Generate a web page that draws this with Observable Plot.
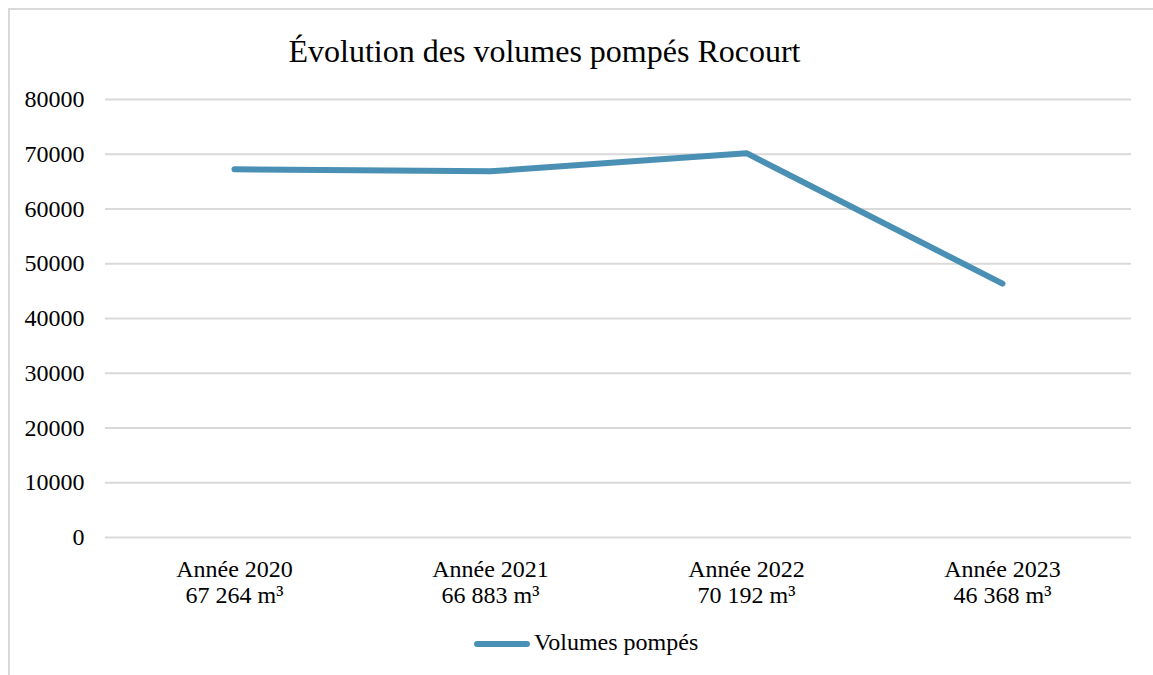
<!DOCTYPE html>
<html>
<head>
<meta charset="utf-8">
<script src="https://cdn.jsdelivr.net/npm/d3@7"></script>
<script src="https://cdn.jsdelivr.net/npm/@observablehq/plot@0.6"></script>
<style>
  html, body { margin: 0; padding: 0; background: #fff; }
  body { width: 1153px; height: 675px; overflow: hidden; position: relative; font-family: "Liberation Serif", "Times New Roman", serif; color: #000; }
  #frame { position: absolute; left: 8px; top: 8px; width: 1160px; height: 700px; border-top: 2px solid #d9d9d9; border-left: 2px solid #d9d9d9; box-sizing: border-box; }
  #title { position: absolute; left: 0; top: 35px; width: 1089px; text-align: center; font-size: 32px; line-height: 32px; white-space: nowrap; }
  #chart { position: absolute; left: 0; top: 69px; }
  #legend { position: absolute; left: 470px; top: 630px; height: 24px; display: flex; align-items: flex-start; font-size: 24px; line-height: 24px; white-space: nowrap; }
  #legend svg { display: block; }
</style>
</head>
<body>
<div id="frame"></div>
<div id="title">Évolution des volumes pompés Rocourt</div>
<div id="chart"></div>
<div id="legend"></div>
<script>
const years = ["Année 2020", "Année 2021", "Année 2022", "Année 2023"];
const volumes = [67264, 66883, 70192, 46368];
const volumeLabels = ["67 264 m³", "66 883 m³", "70 192 m³", "46 368 m³"];
const yTicks = [0, 10000, 20000, 30000, 40000, 50000, 60000, 70000, 80000];
const seriesName = "Volumes pompés";
const lineColor = "#4a90b4";
const serif = "Liberation Serif";

const data = years.map((y, i) => ({year: y, value: volumes[i], label: volumeLabels[i]}));
const labelOf = Object.fromEntries(years.map((y, i) => [y, y + "\n" + volumeLabels[i]]));

const chart = Plot.plot({
  width: 1153,
  height: 541,
  marginTop: 30,
  marginBottom: 73,
  marginLeft: 105,
  marginRight: 22,
  fontFamily: serif,
  style: {fontSize: "24px", color: "#000", background: "transparent", overflow: "visible"},
  x: {type: "point", domain: years, padding: 0.5},
  y: {domain: [0, 80000]},
  marks: [
    Plot.gridY(yTicks, {stroke: "#d9d9d9", strokeOpacity: 1, strokeWidth: 2}),
    Plot.axisY(yTicks, {tickSize: 0, tickPadding: 21, tickFormat: d3.format("d"), fontSize: 24, fontFamily: serif, fill: "#000", label: null}),
    Plot.axisX(years, {tickSize: 0, tickPadding: 20, tickFormat: d => labelOf[d], fontSize: 24, fontFamily: serif, fill: "#000", lineHeight: 1.12, label: null}),
    Plot.line(data, {x: "year", y: "value", stroke: lineColor, strokeWidth: 6, strokeLinecap: "round", strokeLinejoin: "round"})
  ]
});
chart.setAttribute("font-family", serif);
chart.style.fontFamily = serif;
chart.querySelectorAll("g, text, tspan").forEach(el => {
  el.setAttribute("font-family", serif);
  el.style.fontFamily = serif;
});
document.getElementById("chart").appendChild(chart);

// legend
const legend = document.getElementById("legend");
const sw = d3.create("svg").attr("width", 64).attr("height", 24);
sw.append("line").attr("x1", 7).attr("x2", 57).attr("y1", 14).attr("y2", 14)
  .attr("stroke", lineColor).attr("stroke-width", 6).attr("stroke-linecap", "round");
legend.appendChild(sw.node());
const span = document.createElement("span");
span.textContent = seriesName;
legend.appendChild(span);
</script>
</body>
</html>
